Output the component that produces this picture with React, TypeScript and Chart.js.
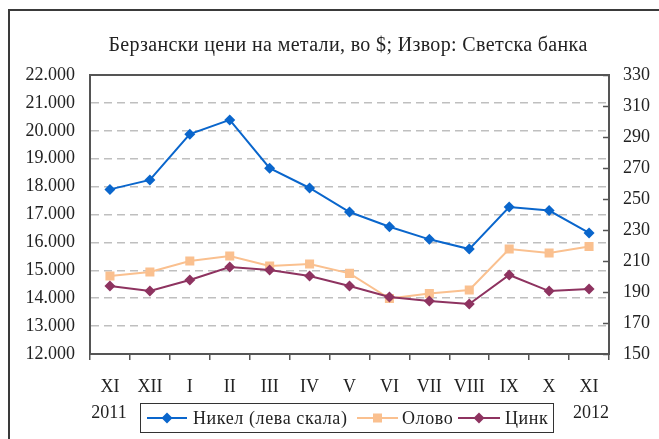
import React, { useEffect, useRef } from "react";
import { Chart, registerables } from "chart.js";

Chart.register(...registerables);

const months = ["XI", "XII", "I", "II", "III", "IV", "V", "VI", "VII", "VIII", "IX", "X", "XI"];
const years = ["2011", "2012"];
const nickel = [17900, 18240, 19880, 20390, 18660, 17950, 17090, 16560, 16110, 15760, 17270, 17140, 16340];
const tin = [200.3, 202.9, 210.0, 213.2, 206.8, 208.1, 202.0, 185.8, 189.0, 191.3, 217.7, 215.2, 219.3];
const zinc = [193.9, 190.6, 197.7, 206.1, 204.2, 200.3, 193.9, 186.8, 184.2, 182.3, 201.0, 190.6, 191.9];
const titleText = "Берзански цени на метали, во $; Извор: Светска банка";
const legendLabels = ["Никел (лева скала)", "Олово", "Цинк"];

const FONT = "'Liberation Serif', 'Times New Roman', serif";
const BLUE = "#0A66CC";
const ORANGE = "#FAC08F";
const PLUM = "#8E3360";
const AXIS = "#555555";

function fmt(v: number) {
  return String(v).replace(/\B(?=(\d{3})+(?!\d))/g, ".");
}

function diamond(ctx: CanvasRenderingContext2D, x: number, y: number, r: number, c: string) {
  ctx.beginPath();
  ctx.moveTo(x, y - r);
  ctx.lineTo(x + r, y);
  ctx.lineTo(x, y + r);
  ctx.lineTo(x - r, y);
  ctx.closePath();
  ctx.fillStyle = c;
  ctx.fill();
}

const decor = {
  id: "decor",
  afterDraw(chart: any) {
    const ctx: any = chart.ctx;
    const { left, right, top } = chart.chartArea;
    ctx.save();
    // top border of plot
    ctx.strokeStyle = AXIS;
    ctx.lineWidth = 2;
    ctx.beginPath();
    ctx.moveTo(left, top);
    ctx.lineTo(right, top);
    ctx.stroke();
    // inward ticks on right axis
    const y1 = chart.scales.y1;
    ctx.lineWidth = 1.5;
    y1.ticks.forEach((t: any) => {
      const y = Math.round(y1.getPixelForValue(t.value)) + 0.5;
      ctx.beginPath();
      ctx.moveTo(right - 6, y);
      ctx.lineTo(right, y);
      ctx.stroke();
    });
    // title
    ctx.fillStyle = "#222";
    ctx.font = `20px ${FONT}`;
    ctx.letterSpacing = "0.35px";
    ctx.textAlign = "center";
    ctx.textBaseline = "middle";
    ctx.fillText(titleText, 348, 46);
    ctx.letterSpacing = "0px";
    // years
    const xs = chart.scales.x;
    ctx.font = `18px ${FONT}`;
    ctx.fillText(years[0], xs.getPixelForValue(0) - 1, 413);
    ctx.fillText(years[1], xs.getPixelForValue(months.length - 1) + 2, 413);
    // legend
    ctx.strokeStyle = "#333";
    ctx.lineWidth = 1;
    ctx.strokeRect(140.5, 403.5, 413, 29);
    const ly = 418;
    const items = [
      { x0: 147, x1: 187, tx: 193, c: BLUE, m: "d" },
      { x0: 357, x1: 398, tx: 402, c: ORANGE, m: "s" },
      { x0: 458, x1: 500, tx: 505, c: PLUM, m: "d" },
    ];
    ctx.textAlign = "left";
    ctx.font = `18px ${FONT}`;
    ctx.letterSpacing = "0.6px";
    items.forEach((it, i) => {
      ctx.strokeStyle = it.c;
      ctx.lineWidth = 2;
      ctx.beginPath();
      ctx.moveTo(it.x0, ly);
      ctx.lineTo(it.x1, ly);
      ctx.stroke();
      const cx = (it.x0 + it.x1) / 2;
      if (it.m === "d") diamond(ctx, cx, ly, 5.5, it.c);
      else {
        ctx.fillStyle = it.c;
        ctx.fillRect(cx - 4.5, ly - 4.5, 9, 9);
      }
      ctx.fillStyle = "#222";
      ctx.fillText(legendLabels[i], it.tx, ly + 1);
    });
    ctx.letterSpacing = "0px";
    ctx.restore();
  },
};

export default function App() {
  const ref = useRef<HTMLCanvasElement | null>(null);
  useEffect(() => {
    if (!ref.current) return;
    const chart = new Chart(ref.current, {
      type: "line",
      data: {
        labels: months,
        datasets: [
          {
            label: legendLabels[0],
            data: nickel,
            yAxisID: "y",
            borderColor: BLUE,
            backgroundColor: BLUE,
            borderWidth: 2,
            pointStyle: "rectRot",
            pointRadius: 5.5,
            pointBorderWidth: 0,
            order: 0,
          },
          {
            label: legendLabels[1],
            data: tin,
            yAxisID: "y1",
            borderColor: ORANGE,
            backgroundColor: ORANGE,
            borderWidth: 2,
            pointStyle: "rect",
            pointRadius: 6.4,
            pointBorderWidth: 0,
            order: 2,
          },
          {
            label: legendLabels[2],
            data: zinc,
            yAxisID: "y1",
            borderColor: PLUM,
            backgroundColor: PLUM,
            borderWidth: 2,
            pointStyle: "rectRot",
            pointRadius: 5.5,
            pointBorderWidth: 0,
            order: 1,
          },
        ],
      },
      options: {
        responsive: false,
        animation: false,
        devicePixelRatio: 1,
        layout: { padding: { top: 75, left: 0, right: 0, bottom: 0 } },
        plugins: { legend: { display: false }, title: { display: false }, tooltip: { enabled: false } },
        scales: {
          x: {
            type: "category",
            offset: true,
            afterFit: (s: any) => {
              s.height = 85;
            },
            grid: {
              offset: true,
              drawOnChartArea: false,
              drawTicks: true,
              tickLength: 6,
              color: AXIS,
              lineWidth: 1.5,
            },
            border: { display: true, color: AXIS, width: 2 },
            ticks: {
              color: "#222",
              font: { family: FONT, size: 18 },
              padding: 16,
              maxRotation: 0,
              autoSkip: false,
            },
          },
          y: {
            position: "left",
            min: 12000,
            max: 22000,
            afterFit: (s: any) => {
              s.width = 90;
            },
            grid: {
              drawTicks: false,
              color: (c: any) =>
                c.tick && (c.tick.value === 12000 || c.tick.value === 22000) ? "rgba(0,0,0,0)" : "#BFBFBF",
              lineWidth: 1.5,
            },
            border: { display: true, color: AXIS, width: 2, dash: [8, 5] },
            ticks: {
              stepSize: 1000,
              color: "#222",
              font: { family: FONT, size: 18 },
              padding: 15,
              callback: (v: any) => fmt(Number(v)),
            },
          },
          y1: {
            position: "right",
            min: 150,
            max: 330,
            afterFit: (s: any) => {
              s.width = 50;
            },
            grid: { drawOnChartArea: false, drawTicks: false },
            border: { display: true, color: AXIS, width: 2 },
            ticks: {
              stepSize: 20,
              color: "#222",
              font: { family: FONT, size: 18 },
              padding: 14,
            },
          },
        },
      },
      plugins: [decor],
    } as any);
    return () => chart.destroy();
  }, []);

  return (
    <div style={{ position: "fixed", left: 0, top: 0, width: 659, height: 439, overflow: "hidden", background: "#fff" }}>
      <div
        style={{
          position: "absolute",
          left: 8,
          top: 9,
          width: 700,
          height: 500,
          border: "2px solid #3a3a3a",
          boxSizing: "border-box",
        }}
      />
      <canvas ref={ref} width={659} height={439} style={{ position: "absolute", left: 0, top: 0 }} />
    </div>
  );
}
